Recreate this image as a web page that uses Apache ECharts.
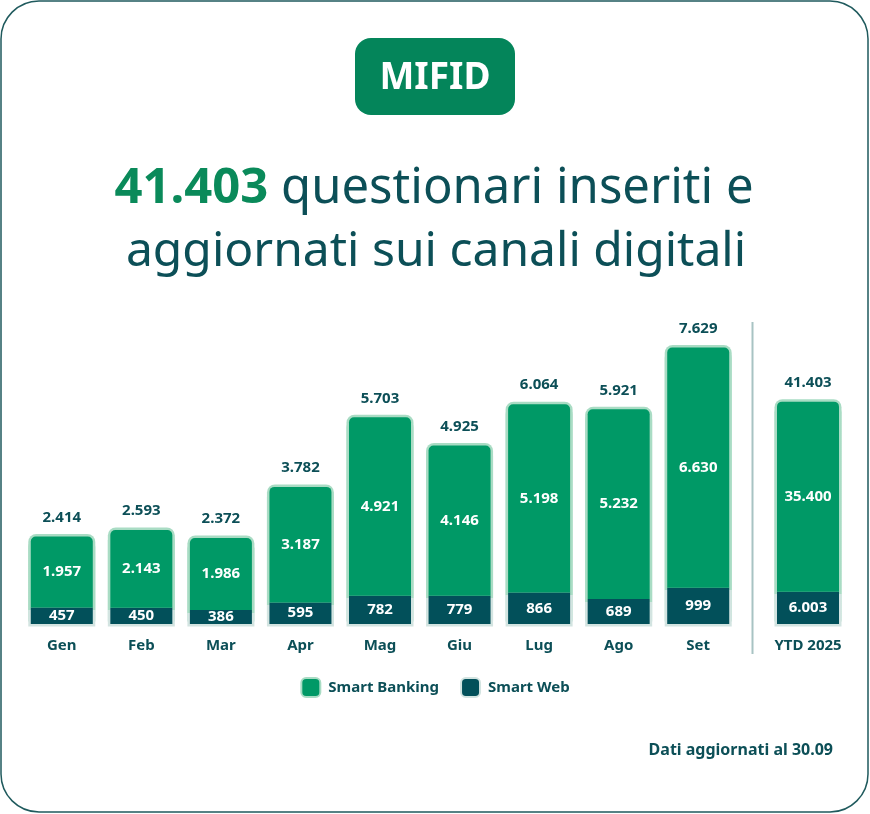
<!DOCTYPE html>
<html>
<head>
<meta charset="utf-8">
<script src="https://cdn.jsdelivr.net/npm/echarts@6/dist/echarts.min.js"></script>
<style>
html,body{margin:0;padding:0;background:#fff;}
#c{width:870px;height:814px;}
</style>
</head>
<body>
<div id="c"></div>
<script>
// ---- data ----
const months = ['Gen','Feb','Mar','Apr','Mag','Giu','Lug','Ago','Set'];
const smartBanking = [1957, 2143, 1986, 3187, 4921, 4146, 5198, 5232, 6630];
const smartWeb = [457, 450, 386, 595, 782, 779, 866, 689, 999];
const monthTotals = [2414, 2593, 2372, 3782, 5703, 4925, 6064, 5921, 7629];
const ytdCategory = ['YTD 2025'];
const ytdSmartBanking = [35400];
const ytdSmartWeb = [6003];
const ytdTotal = [41403];
const seriesNames = ['Smart Banking', 'Smart Web'];

// ---- style ----
const GREEN = '#009966';
const DARK = '#02505a';
const TEXT = '#0c4f57';
const MINT = '#a9dcc4';
const PALE = '#d3e4e1';
const FONT = '"Noto Sans", "Open Sans", sans-serif';

function fmt(v) {
  return String(v).replace(/\B(?=(\d{3})+(?!\d))/g, '.');
}

function frameData(totals, webVals) {
  return totals.map((t, i) => {
    const split = 1 - webVals[i] / t;
    return {
      value: t,
      itemStyle: {
        color: new echarts.graphic.LinearGradient(0, 0, 0, 1, [
          {offset: 0, color: MINT},
          {offset: split, color: MINT},
          {offset: split, color: PALE},
          {offset: 1, color: PALE}
        ])
      }
    };
  });
}

const chart = echarts.init(document.getElementById('c'), null, {renderer: 'canvas'});

const gridTop = 334, gridBottom = 190, ring = 2.5;
const barW = 62;
const MAX_M = 8000, MAX_Y = 54000;

function catAxis(data, gi, show) {
  return {
    type: 'category', gridIndex: gi, data: data, show: show,
    axisLine: {show: false}, axisTick: {show: false},
    axisLabel: {color: TEXT, fontFamily: FONT, fontWeight: 'bold', fontSize: 15, margin: 14}
  };
}
function valAxis(gi, max) {
  return {type: 'value', gridIndex: gi, min: 0, max: max, show: false, splitLine: {show: false}};
}

const labelBase = {color: '#fff', fontFamily: FONT, fontWeight: 'bold', fontSize: 15};

function frameSeries(ai, totals, sw) {
  return {
    name: 'frame' + ai, type: 'bar', xAxisIndex: ai, yAxisIndex: ai,
    barWidth: barW + 2 * ring, z: 1, silent: true,
    data: frameData(totals, sw),
    itemStyle: {borderRadius: [8, 8, 0, 0], shadowColor: MINT, shadowBlur: 0, shadowOffsetY: -2 * ring},
    label: {show: true, position: 'top', distance: 14, formatter: p => fmt(p.value),
            color: TEXT, fontFamily: FONT, fontWeight: 'bold', fontSize: 15}
  };
}
function dataSeries(ai, sb, sw, stackId) {
  return [
    {
      name: seriesNames[1], type: 'bar', xAxisIndex: ai, yAxisIndex: ai, stack: stackId,
      barWidth: barW, z: 2, data: sw,
      itemStyle: {color: DARK},
      label: Object.assign({show: true, position: 'inside', formatter: p => fmt(p.value)}, labelBase)
    },
    {
      name: seriesNames[0], type: 'bar', xAxisIndex: ai, yAxisIndex: ai, stack: stackId,
      barWidth: barW, z: 2, data: sb,
      itemStyle: {color: GREEN, borderRadius: [5, 5, 0, 0]},
      label: Object.assign({show: true, position: 'inside', formatter: p => fmt(p.value)}, labelBase)
    }
  ];
}

const option = {
  backgroundColor: '#fff',
  animation: false,
  textStyle: {fontFamily: FONT},
  grid: [
    {left: 22, width: 716, top: gridTop, bottom: gridBottom},
    {left: 768, width: 80, top: gridTop, bottom: gridBottom},
    {left: 22, width: 716, top: gridTop + ring, bottom: gridBottom - ring},
    {left: 768, width: 80, top: gridTop + ring, bottom: gridBottom - ring}
  ],
  xAxis: [catAxis(months, 0, true), catAxis(ytdCategory, 1, true),
          catAxis(months, 2, false), catAxis(ytdCategory, 3, false)],
  yAxis: [valAxis(0, MAX_M), valAxis(1, MAX_Y), valAxis(2, MAX_M), valAxis(3, MAX_Y)],
  legend: {
    data: [
      {name: seriesNames[0], itemStyle: {color: GREEN, borderColor: MINT, borderWidth: 2}},
      {name: seriesNames[1], itemStyle: {color: DARK, borderColor: PALE, borderWidth: 2}}
    ],
    left: 'center', top: 672, icon: 'roundRect', itemWidth: 19, itemHeight: 19, itemGap: 21,
    selectedMode: false,
    textStyle: {color: TEXT, fontFamily: FONT, fontWeight: 'bold', fontSize: 15, padding: [0, 0, 0, 3]}
  },
  series: [].concat(
    [frameSeries(2, monthTotals, smartWeb), frameSeries(3, ytdTotal, ytdSmartWeb)],
    dataSeries(0, smartBanking, smartWeb, 'm'),
    dataSeries(1, ytdSmartBanking, ytdSmartWeb, 'y')
  ),
  graphic: [
    {type: 'rect', z: -10, silent: true,
     shape: {x: 1, y: 1, width: 867, height: 811, r: 38},
     style: {fill: 'none', stroke: '#1f5a5d', lineWidth: 1.5}},
    {type: 'rect', silent: true,
     shape: {x: 355, y: 38, width: 160, height: 77, r: 16},
     style: {fill: '#04855a'}},
    {type: 'text', silent: true, x: 435, y: 78,
     style: {text: 'MIFID', fill: '#fff', font: 'bold 37px ' + FONT, align: 'center', verticalAlign: 'middle'}},
    {type: 'text', silent: true, x: 434, y: 189,
     style: {
       text: '{a|41.403}{b| questionari inseriti e}',
       align: 'center', verticalAlign: 'middle',
       rich: {
         a: {fill: '#0a8a5a', font: 'bold 49px ' + FONT},
         b: {fill: TEXT, font: '49px ' + FONT}
       }
     }},
    {type: 'text', silent: true, x: 436, y: 252,
     style: {text: 'aggiornati sui canali digitali', fill: TEXT, font: '48px ' + FONT,
             align: 'center', verticalAlign: 'middle'}},
    {type: 'rect', silent: true,
     shape: {x: 751.5, y: 322, width: 2, height: 332},
     style: {fill: '#a8c3c3'}},
    {type: 'text', silent: true, x: 833, y: 750,
     style: {text: 'Dati aggiornati al 30.09', fill: TEXT, font: 'bold 16px ' + FONT,
             align: 'right', verticalAlign: 'middle'}}
  ]
};
chart.setOption(option);
</script>
</body>
</html>
